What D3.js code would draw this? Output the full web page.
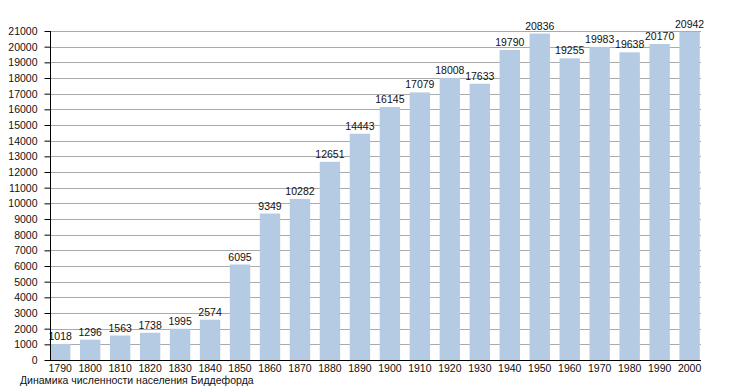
<!DOCTYPE html>
<html>
<head>
<meta charset="utf-8">
<script src="https://cdn.jsdelivr.net/npm/d3@7"></script>
<style>
  body { margin: 0; background: #fff; }
  text { font-family: "Liberation Sans", Arial, sans-serif; font-size: 10.5px; fill: #111; }
</style>
</head>
<body>
<svg id="chart"></svg>
<script>
// population of Biddeford by census year
const years = ["1790","1800","1810","1820","1830","1840","1850","1860","1870","1880","1890",
               "1900","1910","1920","1930","1940","1950","1960","1970","1980","1990","2000"];
const population = [1018,1296,1563,1738,1995,2574,6095,9349,10282,12651,14443,
                    16145,17079,18008,17633,19790,20836,19255,19983,19638,20170,20942];
const yTicks = d3.range(0, 21001, 1000);
const caption = "Динамика численности населения Биддефорда";

const width = 730, height = 390;
const svg = d3.select("#chart").attr("width", width).attr("height", height);

const x = d3.scaleBand()
  .domain(years)
  .range([50, 701])
  .paddingInner(0.32)
  .paddingOuter(0.02)
  .align(0);

const y = d3.scaleLinear().domain([0, 21000]).range([360, 31]);

// gridlines
svg.append("g")
  .selectAll("line")
  .data(yTicks.filter(d => d > 0))
  .join("line")
    .attr("x1", 50).attr("x2", 701)
    .attr("y1", d => Math.round(y(d)) + 0.5)
    .attr("y2", d => Math.round(y(d)) + 0.5)
    .attr("stroke", "#aaa");

// bars
svg.append("g")
  .selectAll("rect")
  .data(population)
  .join("rect")
    .attr("x", (d, i) => x(years[i]))
    .attr("y", d => y(d))
    .attr("width", x.bandwidth())
    .attr("height", d => y(0) - y(d))
    .attr("fill", "#b4cbe3");

// value labels
svg.append("g")
  .selectAll("text")
  .data(population)
  .join("text")
    .attr("x", (d, i) => x(years[i]) + x.bandwidth() / 2)
    .attr("y", d => y(d) - 4)
    .attr("text-anchor", "middle")
    .text(d => d);

const font = "Liberation Sans, Arial, sans-serif";

// y axis
const yAxis = svg.append("g")
  .attr("transform", "translate(50.5,0)")
  .call(d3.axisLeft(y).tickValues(yTicks).tickSize(6).tickPadding(7).tickFormat(d => d));
yAxis.select(".domain").attr("stroke", "#000").attr("d", `M0,${y(21000)}V${y(0)}`);
yAxis.selectAll(".tick line").attr("stroke", "#000");
yAxis.selectAll(".tick text").attr("font-size", 10.5).attr("font-family", font).attr("fill", "#111");

// x axis
const xAxis = svg.append("g")
  .attr("transform", `translate(0,${y(0) + 0.5})`)
  .call(d3.axisBottom(x).tickSize(0).tickPadding(4));
xAxis.select(".domain").attr("stroke", "#000").attr("d", "M50,0H701");
xAxis.selectAll(".tick text").attr("font-size", 10.5).attr("font-family", font).attr("fill", "#111");

// caption
svg.append("text")
  .attr("x", 20)
  .attr("y", 384)
  .text(caption);
</script>
</body>
</html>
